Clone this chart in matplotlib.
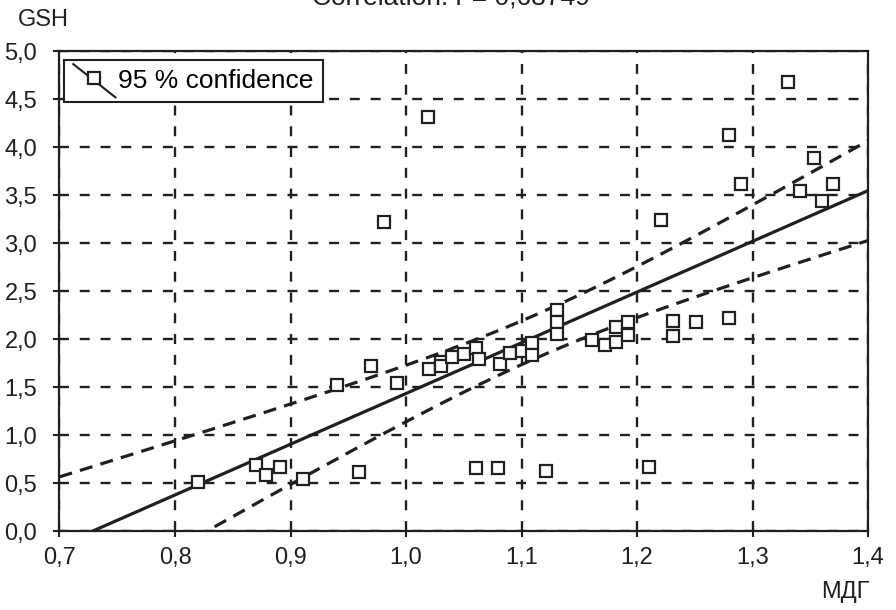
import numpy as np
import matplotlib
matplotlib.use("Agg")
import matplotlib.pyplot as plt
from matplotlib.lines import Line2D
from matplotlib.legend_handler import HandlerBase

plt.rcParams['font.family'] = ['Liberation Sans', 'DejaVu Sans']

# data (x = МДГ, y = GSH)
mdg = [0.820, 0.870, 0.879, 0.891, 0.911, 0.940, 0.959, 0.970, 0.981, 0.992,
       1.019, 1.020, 1.030, 1.030, 1.040, 1.050, 1.061, 1.063, 1.061, 1.081,
       1.080, 1.090, 1.100, 1.109, 1.109, 1.121, 1.131, 1.131, 1.131, 1.161,
       1.172, 1.182, 1.182, 1.192, 1.192, 1.210, 1.221, 1.231, 1.231, 1.251,
       1.280, 1.280, 1.290, 1.331, 1.341, 1.353, 1.360, 1.370]
gsh = [0.51, 0.69, 0.59, 0.67, 0.545, 1.52, 0.62, 1.72, 3.22, 1.545,
       4.31, 1.69, 1.76, 1.72, 1.82, 1.85, 1.905, 1.79, 0.656, 1.74,
       0.66, 1.86, 1.88, 1.965, 1.84, 0.63, 2.305, 2.18, 2.06, 1.99,
       1.94, 2.13, 1.975, 2.18, 2.045, 0.667, 3.24, 2.19, 2.03, 2.18,
       2.225, 4.13, 3.615, 4.68, 3.54, 3.885, 3.44, 3.615]

xticks = [0.7, 0.8, 0.9, 1.0, 1.1, 1.2, 1.3, 1.4]
xticklabels = ['0,7', '0,8', '0,9', '1,0', '1,1', '1,2', '1,3', '1,4']
yticks = [0.0, 0.5, 1.0, 1.5, 2.0, 2.5, 3.0, 3.5, 4.0, 4.5, 5.0]
yticklabels = ['0,0', '0,5', '1,0', '1,5', '2,0', '2,5', '3,0', '3,5', '4,0', '4,5', '5,0']

ink = '#231f20'

# linear fit and 95 % confidence band of the mean
x = np.array(mdg)
y = np.array(gsh)
n = len(x)
b, a = np.polyfit(x, y, 1)
resid = y - (a + b * x)
s = np.sqrt(np.sum(resid ** 2) / (n - 2))
sxx = np.sum((x - x.mean()) ** 2)
t95 = 2.013

xs = np.linspace(0.7, 1.4, 200)
fit = a + b * xs
half = t95 * s * np.sqrt(1.0 / n + (xs - x.mean()) ** 2 / sxx)


class DiagHandler(HandlerBase):
    # legend handle: diagonal line with a square on it
    def create_artists(self, legend, orig_handle, xdescent, ydescent,
                       width, height, fontsize, trans):
        x0, x1 = -xdescent, width - xdescent
        y0, y1 = -ydescent - 0.5 * height, height - ydescent + 0.3 * height
        ln = Line2D([x0, x1], [y1, y0], color=ink, lw=1.5, transform=trans)
        mk = Line2D([(x0 + x1) / 2], [(y0 + y1) / 2 + 0.15 * height],
                    marker='s', ms=8.5, mfc='white', mec=ink, mew=1.6,
                    ls='none', transform=trans)
        return [ln, mk]


fig = plt.figure(figsize=(8.96, 6.10), dpi=100)
ax = fig.add_axes([0.0664, 0.129, 0.9024, 0.787])

ax.plot(xs, fit, color=ink, lw=2.3, zorder=3)
ax.plot(xs, fit + half, color=ink, lw=2.3, ls=(0, (4.1, 2.6)), zorder=3)
ax.plot(xs, fit - half, color=ink, lw=2.3, ls=(0, (4.1, 2.6)), zorder=3)
ax.plot(x, y, ls='none', marker='s', ms=8.8, mfc='white', mec=ink, mew=1.6, zorder=4)

ax.set_xlim(0.7, 1.4)
ax.set_ylim(0, 5)
ax.set_xticks(xticks)
ax.set_xticklabels(xticklabels)
ax.set_yticks(yticks)
ax.set_yticklabels(yticklabels)
ax.tick_params(labelsize=17, length=4, width=1.5, color=ink, labelcolor=ink)
ax.tick_params(axis='y', pad=12)
ax.tick_params(axis='x', pad=7)
ax.grid(True, color=ink, lw=1.7, ls=(0, (4.2, 4.6)))
for sp in ax.spines.values():
    sp.set_linewidth(1.6)
    sp.set_color(ink)

h = Line2D([], [], color=ink)
leg = ax.legend([h], ['95 % confidence'], handler_map={Line2D: DiagHandler()},
                loc='upper left', bbox_to_anchor=(0.0056, 0.982), borderaxespad=0,
                fontsize=19, fancybox=False, framealpha=1, edgecolor=ink,
                handlelength=1.6, handletextpad=0.1, borderpad=0.35)
leg.get_frame().set_linewidth(1.5)

fig.text(0.048, 0.967, 'GSH', fontsize=17, ha='center', va='center', color=ink)
fig.text(0.971, 0.03, 'МДГ', fontsize=17, ha='right', va='center', color=ink)
fig.text(0.503, 0.992, 'Correlation: r = ' + ('%.5f' % 0.68749).replace('.', ','),
         fontsize=19, ha='center', va='baseline', color=ink)

fig.savefig('out.png', dpi=100)
